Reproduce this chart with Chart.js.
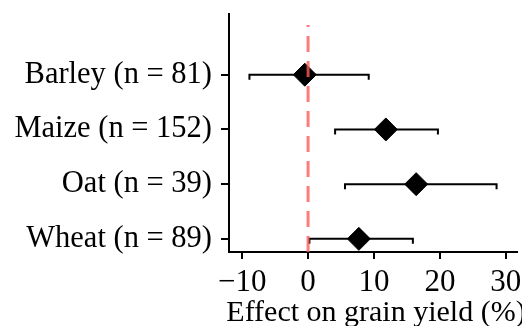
<!DOCTYPE html>
<html>
<head>
<meta charset="utf-8">
<script src="https://cdn.jsdelivr.net/npm/chart.js@4"></script>
<style>
  html, body { margin: 0; padding: 0; background: #fff; overflow: hidden; }
  #wrap { width: 522px; height: 326px; }
</style>
</head>
<body>
<div id="wrap"><canvas id="forestChart" width="522" height="326"></canvas></div>
<script>
    // crops, top to bottom
    const crops = ['Barley (n = 81)', 'Maize (n = 152)', 'Oat (n = 39)', 'Wheat (n = 89)'];
    const rowPos = [4, 3, 2, 1];
    const effect = [-0.5, 11.8, 16.4, 7.7];
    const ciLow = [-8.9, 4.1, 5.6, 0.2];
    const ciHigh = [9.2, 19.7, 28.6, 15.9];
    const xTicks = [-10, 0, 10, 20, 30];
    const xTitle = 'Effect on grain yield (%)';
    const refLineX = 0;
    const refLineSpan = [0.76, 4.91];

    const serif = "'Liberation Serif', 'Times New Roman', serif";

    // error bars drawn under the diamonds
    const errorBars = {
        id: 'errorBars',
        beforeDatasetsDraw(chart) {
            const ctx = chart.ctx;
            const xs = chart.scales.x;
            const ys = chart.scales.y;
            ctx.save();
            ctx.strokeStyle = '#000';
            ctx.lineWidth = 2;
            for (let i = 0; i < effect.length; i++) {
                const y = ys.getPixelForValue(rowPos[i]);
                const x1 = xs.getPixelForValue(ciLow[i]);
                const x2 = xs.getPixelForValue(ciHigh[i]);
                ctx.beginPath();
                ctx.moveTo(x1, y);
                ctx.lineTo(x2, y);
                ctx.moveTo(x1, y - 1);
                ctx.lineTo(x1, y + 5);
                ctx.moveTo(x2, y - 1);
                ctx.lineTo(x2, y + 5);
                ctx.stroke();
            }
            ctx.restore();
        }
    };

    // axis title without the maxWidth squeeze of the built-in one
    const xTitlePlugin = {
        id: 'xTitle',
        afterDraw(chart) {
            const ctx = chart.ctx;
            const a = chart.chartArea;
            ctx.save();
            ctx.fillStyle = '#000';
            ctx.font = '30px ' + serif;
            ctx.textAlign = 'center';
            ctx.textBaseline = 'alphabetic';
            ctx.fillText(xTitle, (a.left + a.right) / 2 + 3, 321);
            ctx.restore();
        }
    };

    // drop the label overhang padding so the plot area is set by layout.padding only
    const zeroPad = () => ({ left: 0, top: 0, right: 0, bottom: 0 });
    function noOverhang(scale) {
        scale.paddingLeft = 0;
        scale.paddingRight = 0;
        scale.paddingTop = 0;
        scale.paddingBottom = 0;
        scale.getPadding = zeroPad;
    }

    const ctx = document.getElementById('forestChart').getContext('2d');

    new Chart(ctx, {
        type: 'scatter',
        data: {
            datasets: [{
                // reference line at zero, on top of everything
                data: refLineSpan.map(v => ({ x: refLineX, y: v })),
                showLine: true,
                borderColor: 'rgba(255, 90, 90, 0.8)',
                borderWidth: 3,
                borderDash: [16, 9],
                pointRadius: 0,
                order: 0
            }, {
                data: effect.map((v, i) => ({ x: v, y: rowPos[i] })),
                pointStyle: 'rectRot',
                pointRadius: 11.5,
                pointHoverRadius: 11.5,
                backgroundColor: '#000',
                borderColor: '#000',
                borderWidth: 1,
                order: 1
            }]
        },
        options: {
            responsive: false,
            animation: false,
            events: [],
            layout: { autoPadding: false, padding: { top: 14, right: 5, left: 0, bottom: 0 } },
            plugins: {
                legend: { display: false },
                tooltip: { enabled: false }
            },
            scales: {
                x: {
                    type: 'linear',
                    min: -12,
                    max: 31.7,
                    afterBuildTicks: scale => { scale.ticks = xTicks.map(v => ({ value: v })); },
                    afterFit: scale => { scale.height = 74; noOverhang(scale); },
                    border: { display: true, color: '#000', width: 2 },
                    grid: { drawOnChartArea: false, drawTicks: true, tickLength: 7, color: '#000', lineWidth: 2 },
                    ticks: {
                        color: '#000',
                        padding: 5,
                        maxRotation: 0,
                        autoSkip: false,
                        font: { family: serif, size: 31 },
                        callback: v => (v < 0 ? '\u2212' + Math.abs(v) : String(v))
                    },
                    title: { display: false }
                },
                y: {
                    type: 'linear',
                    min: 0.76,
                    max: 5.11,
                    afterBuildTicks: scale => { scale.ticks = rowPos.map(v => ({ value: v })); },
                    afterFit: scale => { scale.width = 229; noOverhang(scale); },
                    border: { display: true, color: '#000', width: 2 },
                    grid: { drawOnChartArea: false, drawTicks: true, tickLength: 8, color: '#000', lineWidth: 2 },
                    ticks: {
                        color: '#000',
                        padding: 9,
                        font: { family: serif, size: 30.5 },
                        callback: v => crops[rowPos.indexOf(v)] || ''
                    }
                }
            }
        },
        plugins: [errorBars, xTitlePlugin]
    });
</script>
</body>
</html>
